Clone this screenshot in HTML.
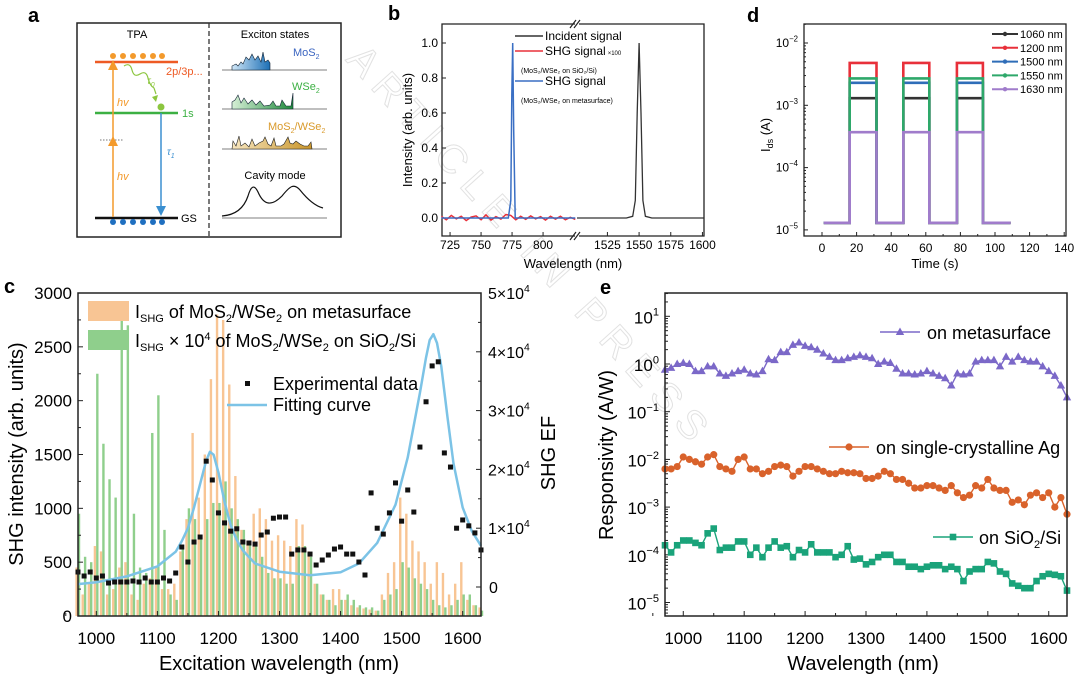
<!DOCTYPE html>
<html><head><meta charset="utf-8"><style>
body{margin:0;background:#fff}
svg{display:block;font-family:"Liberation Sans",Arial,sans-serif}
</style></head><body>
<svg id="fig" width="1080" height="679" viewBox="0 0 1080 679" xmlns="http://www.w3.org/2000/svg">
<defs>
<linearGradient id="gBlue" x1="0" x2="1" y1="0" y2="0"><stop offset="0" stop-color="#cfe6f7"/><stop offset="1" stop-color="#1c6fb5"/></linearGradient>
<linearGradient id="gGreen" x1="0" x2="1" y1="0" y2="0"><stop offset="0" stop-color="#d6efd6"/><stop offset="1" stop-color="#1f8a3c"/></linearGradient>
<linearGradient id="gGold" x1="0" x2="1" y1="0" y2="0"><stop offset="0" stop-color="#f7e6bf"/><stop offset="1" stop-color="#c9952a"/></linearGradient>
</defs>
<text x="345" y="60" transform="rotate(48 345 60)" font-size="40" fill="none" stroke="#e2e2e2" stroke-width="1" letter-spacing="10">ARTICLE IN PRESS</text>

<!-- Panel a -->
<g>
<text x="28" y="22" font-size="20" font-weight="bold">a</text>
<rect x="77" y="23" width="264" height="214" fill="none" stroke="#222" stroke-width="1.5"/>
<line x1="209" y1="23" x2="209" y2="237" stroke="#333" stroke-width="1.3" stroke-dasharray="5,3"/>
<text x="137" y="38" font-size="11" text-anchor="middle">TPA</text>
<line x1="95" y1="62" x2="178" y2="62" stroke="#ee5a24" stroke-width="2.5"/>
<g fill="#f39a2c"><circle cx="113" cy="56" r="3"/><circle cx="123" cy="56" r="3"/><circle cx="133" cy="56" r="3"/><circle cx="143" cy="56" r="3"/><circle cx="153" cy="56" r="3"/><circle cx="162" cy="56" r="3"/></g>
<text x="166" y="75" font-size="11" fill="#ee5a24">2p/3p...</text>
<line x1="95" y1="113" x2="178" y2="113" stroke="#3cb043" stroke-width="2.5"/>
<text x="182" y="117" font-size="11" fill="#3cb043">1s</text>
<line x1="95" y1="218" x2="178" y2="218" stroke="#111" stroke-width="2.5"/>
<text x="181" y="222" font-size="11">GS</text>
<g fill="#1f6fc0"><circle cx="113" cy="222" r="3"/><circle cx="123" cy="222" r="3"/><circle cx="133" cy="222" r="3"/><circle cx="143" cy="222" r="3"/><circle cx="153" cy="222" r="3"/><circle cx="162" cy="222" r="3"/></g>
<line x1="100" y1="140" x2="124" y2="140" stroke="#777" stroke-width="1" stroke-dasharray="1.5,1.5"/>
<line x1="113" y1="217" x2="113" y2="64" stroke="#f39a2c" stroke-width="1.5"/>
<path d="M108 146 L113 136 L118 146 Z M108 70 L113 60 L118 70 Z" fill="#f39a2c"/>
<text x="117" y="106" font-size="11" font-style="italic" fill="#f39a2c">hv</text>
<text x="117" y="180" font-size="11" font-style="italic" fill="#f39a2c">hv</text>
<line x1="161" y1="113" x2="161" y2="210" stroke="#3a8fd0" stroke-width="1.5"/>
<path d="M156 206 L161 216 L166 206 Z" fill="#3a8fd0"/>
<text x="167" y="155" font-size="10" font-style="italic" fill="#3a8fd0">τ<tspan font-size="7" dy="3">1</tspan></text>
<path d="M124 66 q6 -4 8 4 q2 8 8 4 q6 -4 8 4 q2 8 6 10 l2 6" fill="none" stroke="#8cc63f" stroke-width="1.2"/>
<path d="M152 97 L156 102 L158 95 Z" fill="#8cc63f"/>
<text x="147" y="84" font-size="10" font-style="italic" fill="#8cc63f">τ<tspan font-size="7" dy="3">0</tspan></text>
<circle cx="161" cy="107" r="3.5" fill="#8cc63f"/>
<text x="275" y="38" font-size="11" text-anchor="middle">Exciton states</text>
<line x1="222" y1="70" x2="327" y2="70" stroke="#555" stroke-width="0.8"/>
<path d="M232 70 L232 66 L236 64 L238 66 L241 62 L243 64 L246 57 L249 60 L252 54 L255 60 L258 56 L261 62 L263 52 L265 62 L268 60 L270 63 L270 70 Z" fill="url(#gBlue)" stroke="#123" stroke-width="0.6"/>
<text x="293" y="56" font-size="11" fill="#3a64c0">MoS<tspan font-size="7" dy="3">2</tspan></text>
<line x1="222" y1="109" x2="327" y2="109" stroke="#555" stroke-width="0.8"/>
<path d="M232 109 L232 102 L235 100 L238 95 L241 103 L244 98 L248 104 L252 100 L256 105 L260 101 L264 106 L270 105 L273 101 L276 106 L280 106 L282 100 L286 106 L291 106 L293 93 L293 109 Z" fill="url(#gGreen)" stroke="#123" stroke-width="0.6"/>
<text x="292" y="90" font-size="11" fill="#3cb043">WSe<tspan font-size="7" dy="3">2</tspan></text>
<line x1="222" y1="149" x2="327" y2="149" stroke="#555" stroke-width="0.8"/>
<path d="M232 149 L233 141 L236 146 L239 136 L241 146 L245 143 L249 147 L252 139 L255 146 L259 143 L263 141 L265 137 L268 144 L271 146 L274 138 L276 146 L281 146 L284 144 L288 137 L290 143 L293 144 L296 141 L300 144 L304 146 L308 146 L311 142 L312 149 Z" fill="url(#gGold)" stroke="#222" stroke-width="0.6"/>
<text x="268" y="130" font-size="11" fill="#d99a2b">MoS<tspan font-size="7" dy="3">2</tspan><tspan dy="-3">/WSe</tspan><tspan font-size="7" dy="3">2</tspan></text>
<text x="275" y="179" font-size="11" text-anchor="middle">Cavity mode</text>
<line x1="222" y1="218" x2="327" y2="218" stroke="#555" stroke-width="0.8"/>
<path d="M222 216 C236 215 244 208 248 196 C251 186 254 184 258 192 C264 206 272 206 282 196 C290 186 294 183 300 190 C308 200 315 206 323 208" fill="none" stroke="#111" stroke-width="1.2"/>
</g>

<text x="388" y="20" font-size="20" font-weight="bold">b</text>
<text x="747" y="22" font-size="20" font-weight="bold">d</text>
<text x="4" y="293" font-size="20" font-weight="bold">c</text>
<text x="600" y="294" font-size="20" font-weight="bold">e</text>

<g id="pb"></g>
<g id="pd"></g>
<g id="pc"></g>
<g id="pe"></g>
</svg>
<script>
// ---------- DATA ----------
// panel b
const bBlueW = [718,760,772,774,774.8,775.5,776.3,777.5,790,826];
const bBlueI = [0,0,0,0.1,0.7,1.0,0.5,0,0,0];
const bRedW = [718,722,726,730,734,738,742,746,750,754,758,762,766,770,774,778,782,786,790,794,798,802,806,810,814,818,822,826];
const bRedI = [0.01,-0.01,0.015,-0.005,0.01,-0.015,0.005,0.012,-0.01,0.018,-0.012,0.008,-0.006,0.02,0.015,-0.01,0.01,-0.008,0.012,-0.005,0.008,-0.012,0.01,-0.006,0.01,-0.01,0.004,-0.008];
const bBlackW = [1501,1540,1545,1547,1548.5,1550,1551.5,1553,1555,1560,1601];
const bBlackI = [0,0,0.01,0.1,0.6,1.0,0.6,0.1,0.01,0,0];
const bYTicks = [0,0.2,0.4,0.6,0.8,1.0];
const bXTicksL = [725,750,775,800];
const bXTicksR = [1525,1550,1575,1600];
// panel d
const dSeriesNames = ['1060 nm','1200 nm','1500 nm','1550 nm','1630 nm'];
const dLevels = [1.3e-3,4.8e-3,2.3e-3,2.7e-3,3.7e-4];
const dBase = 1.3e-5;
const dOn = [16,47,78];
const dOff = [31.5,62,93];
const dEnd = 109;
const dXTicks = [0,20,40,60,80,100,120,140];
const dYTicks = [-5,-4,-3,-2];
// panel c
const cWl = [970,980,990,1000,1010,1020,1030,1040,1050,1060,1070,1080,1090,1100,1110,1120,1130,1140,1150,1160,1170,1180,1190,1200,1210,1220,1230,1240,1250,1260,1270,1280,1290,1300,1310,1320,1330,1340,1350,1360,1370,1380,1390,1400,1410,1420,1430,1440,1450,1460,1470,1480,1490,1500,1510,1520,1530,1540,1550,1560,1570,1580,1590,1600,1610,1620,1630];
const cMeta = [450,200,300,650,600,200,250,450,500,200,150,300,350,450,250,250,300,600,900,1700,1100,1500,2200,2800,2750,2150,1300,800,700,950,1000,900,700,750,700,650,900,850,600,300,200,150,250,250,150,100,80,70,60,50,200,400,500,1100,950,700,600,500,300,500,400,200,300,500,150,100,80];
const cSio2 = [950,550,500,2250,1600,1270,1100,2800,2700,950,450,400,1700,2050,800,200,150,650,1000,900,750,900,1050,1050,1250,1000,900,800,700,650,550,400,350,350,300,300,650,650,550,300,200,150,100,150,200,150,100,80,80,50,150,200,250,500,450,350,300,250,150,100,80,100,150,200,200,100,50];
const cEF = [2550,1870,2550,1530,1870,680,850,850,850,1020,850,1530,850,850,1530,1020,2380,6800,4250,7650,8500,21400,18200,12600,10900,9500,9900,7650,7480,7300,8840,9350,11700,11900,11900,5600,6300,6300,5600,3740,4590,5440,6460,6800,5600,5600,4250,2040,16000,10000,9000,12600,17700,11200,16500,12750,23800,31500,37600,38300,22800,20400,10000,11400,10400,9200,6300];
const cFitW = [970,1000,1050,1100,1130,1140,1150,1160,1170,1180,1186,1192,1200,1210,1220,1230,1240,1260,1300,1350,1400,1430,1460,1490,1510,1530,1540,1546,1552,1558,1565,1575,1585,1600,1615,1630];
const cFitEF = [500,800,1800,3500,6000,7800,10000,13500,17500,21500,23000,22500,19500,14500,10500,8000,6200,4000,2600,2000,2500,4000,7500,14000,22000,33000,39000,42000,43000,41500,37500,29000,21000,13500,9500,7000];
const cXTicks = [1000,1100,1200,1300,1400,1500,1600];
const cYTicks = [0,500,1000,1500,2000,2500,3000];
const cRTicks = [0,1,2,3,4,5];
// panel e (values as log10 of responsivity, A/W)
const eMetaExp = [-0.12,-0.08,0,0.02,0,-0.15,-0.15,-0.05,-0.05,-0.2,-0.25,-0.2,-0.15,-0.12,-0.2,-0.22,-0.15,0.1,0.08,0.25,0.25,0.4,0.45,0.38,0.35,0.3,0.22,0.15,0.08,0.08,0.12,0.15,0.18,0.15,0.12,0,0.05,0.02,-0.1,-0.2,-0.2,-0.22,-0.2,-0.15,-0.2,-0.25,-0.3,-0.45,-0.2,-0.22,-0.2,0.05,0.08,0.08,0.08,-0.05,0.15,0.05,0.15,0.08,0.05,0.05,-0.05,-0.15,-0.25,-0.45,-0.7];
const eAgExp = [-2.2,-2.2,-2.15,-1.95,-2.0,-2.05,-2.1,-1.95,-1.9,-2.15,-2.2,-2.25,-2.0,-1.95,-2.2,-2.2,-2.3,-2.25,-2.15,-2.12,-2.15,-2.35,-2.25,-2.15,-2.15,-2.2,-2.25,-2.3,-2.3,-2.25,-2.28,-2.28,-2.3,-2.4,-2.4,-2.35,-2.25,-2.3,-2.42,-2.42,-2.5,-2.6,-2.6,-2.55,-2.55,-2.6,-2.65,-2.55,-2.7,-2.8,-2.75,-2.55,-2.6,-2.42,-2.6,-2.65,-2.65,-2.9,-2.85,-2.95,-2.75,-2.7,-2.8,-2.7,-3.0,-2.8,-3.15];
const eSiExp = [-3.8,-3.95,-3.8,-3.7,-3.7,-3.75,-3.8,-3.55,-3.45,-3.9,-3.85,-3.85,-3.72,-3.72,-4.0,-3.85,-4.05,-3.85,-3.72,-3.85,-3.82,-4.05,-3.9,-3.95,-3.78,-3.95,-3.95,-3.95,-4.05,-4.0,-3.82,-4.1,-4.08,-4.2,-4.15,-4.05,-4.0,-4.0,-4.15,-4.15,-4.25,-4.25,-4.3,-4.25,-4.22,-4.22,-4.3,-4.25,-4.3,-4.55,-4.35,-4.3,-4.3,-4.15,-4.18,-4.35,-4.4,-4.6,-4.65,-4.7,-4.7,-4.55,-4.45,-4.4,-4.42,-4.45,-4.75];
const eXTicks = [1000,1100,1200,1300,1400,1500,1600];
const eYTicks = [-5,-4,-3,-2,-1,0,1];

// ---------- HELPERS ----------
const NS='http://www.w3.org/2000/svg';
function mk(tag, attrs, parent){const e=document.createElementNS(NS,tag);for(const k in attrs)e.setAttribute(k,attrs[k]);parent.appendChild(e);return e;}
function txt(parent,x,y,s,size,anchor,extra){const t=mk('text',Object.assign({x:x,y:y,'font-size':size,'text-anchor':anchor||'middle'},extra||{}),parent);t.textContent=s;return t;}
function pow10(parent,x,y,base,exp,size,anchor){const t=mk('text',{x:x,y:y,'font-size':size,'text-anchor':anchor||'end'},parent);t.appendChild(document.createTextNode(base));const s=mk('tspan',{dy:-size*0.45,'font-size':size*0.65},t);s.textContent=exp;return t;}
function pathD(xs,ys){return xs.map((x,i)=>(i?'L':'M')+x.toFixed(1)+' '+ys[i].toFixed(1)).join(' ');}

// ---------- PANEL B ----------
(function(){
const g=document.getElementById('pb');
const L=442,R=704,T=24,B=236;
const bxL=w=>442+(w-718.5)*1.24, bxR=w=>577+(w-1501)*1.267, by=v=>218-v*175;
let f=mk('path',{d:`M575 ${T} L${L} ${T} L${L} ${B} L575 ${B} M579 ${B} L${R} ${B} L${R} ${T} L579 ${T}`,fill:'none',stroke:'#222','stroke-width':1.3},g);


let br=mk('path',{d:`M570 ${T+4} L576 ${T-4} M574 ${T+4} L580 ${T-4} M570 ${B+4} L576 ${B-4} M574 ${B+4} L580 ${B-4}`,stroke:'#222','stroke-width':1.2},g);


bYTicks.forEach(v=>{mk('line',{x1:L,x2:L+4,y1:by(v),y2:by(v),stroke:'#222'},g);const t=txt(g,L-4,by(v)+4,v.toFixed(1),12,'end');

});
bXTicksL.forEach(v=>{mk('line',{x1:bxL(v),x2:bxL(v),y1:B,y2:B-4,stroke:'#222'},g);const t=txt(g,bxL(v),B+13,String(v),12);

});
bXTicksR.forEach(v=>{mk('line',{x1:bxR(v),x2:bxR(v),y1:B,y2:B-4,stroke:'#222'},g);const t=txt(g,bxR(v),B+13,String(v),12);

});
let yt=txt(g,0,0,'Intensity (arb. units)',13,'middle',{transform:'translate(412 130) rotate(-90)'});


let xt=txt(g,573,268,'Wavelength (nm)',13);


let red=mk('path',{d:pathD(bRedW.map(bxL),bRedI.map(by)),fill:'none',stroke:'#e8303a','stroke-width':1.5},g);


let blue=mk('path',{d:pathD(bBlueW.map(bxL),bBlueI.map(by)),fill:'none',stroke:'#3a6fc4','stroke-width':1.5},g);


let blk=mk('path',{d:pathD(bBlackW.map(bxR),bBlackI.map(by)),fill:'none',stroke:'#333','stroke-width':1.3},g);


const leg=[['#333','Incident signal',40],['#e8303a','SHG signal',55],['#3a6fc4','SHG signal',85]];
leg.forEach((l,i)=>{mk('line',{x1:515,x2:543,y1:l[2]-4,y2:l[2]-4,stroke:l[0],'stroke-width':1.5},g);const t=txt(g,545,l[2],l[1],12,'start');


if(i==1){const s=mk('tspan',{'font-size':6,dx:2},t);s.textContent='×100';}});
let s1=txt(g,521,73,'(MoS₂/WSe₂ on SiO₂/Si)',7,'start');


let s2=txt(g,521,103,'(MoS₂/WSe₂ on metasurface)',7,'start');


})();

// ---------- PANEL D ----------
(function(){
const g=document.getElementById('pd');
const L=804,R=1066,T=24,B=236;
const dx=t=>822+t*1.73, dy=v=>43-(Math.log10(v)+2)*62.3;
let f=mk('rect',{x:L,y:T,width:R-L,height:B-T,fill:'none',stroke:'#222','stroke-width':1.3},g);


dXTicks.forEach(v=>{mk('line',{x1:dx(v),x2:dx(v),y1:B,y2:B-4,stroke:'#222'},g);if(dx(v+10)<R)mk('line',{x1:dx(v+10),x2:dx(v+10),y1:B,y2:B-2,stroke:'#222'},g);const t=txt(g,dx(v),B+16,String(v),12);

});
dYTicks.forEach(e=>{const y=dy(Math.pow(10,e));mk('line',{x1:L,x2:L+4,y1:y,y2:y,stroke:'#222'},g);
for(let k=2;k<10;k++){const yy=dy(k*Math.pow(10,e));if(yy>T)mk('line',{x1:L,x2:L+2,y1:yy,y2:yy,stroke:'#222'},g);}
const t=pow10(g,L-6,y+4,'10',String(e).replace('-','−'),12);

});
const yt=mk('text',{'font-size':13,'text-anchor':'middle',transform:'translate(770 135) rotate(-90)'},g);
yt.appendChild(document.createTextNode('I'));const sb=mk('tspan',{'font-size':9,dy:3},yt);sb.textContent='ds';const rest=mk('tspan',{dy:-3},yt);rest.textContent=' (A)';


let xt=txt(g,935,268,'Time (s)',13);


const cols=['#333','#e8303a','#2f6db8','#2ea86a','#a07ccb'];
dLevels.forEach((lv,i)=>{
 const xs=[1],ys=[dBase];
 dOn.forEach((on,k)=>{xs.push(on,on,dOff[k],dOff[k]);ys.push(dBase,lv,lv,dBase);});
 xs.push(dEnd);ys.push(dBase);
 const p=mk('path',{d:pathD(xs.map(dx),ys.map(dy)),fill:'none',stroke:cols[i],'stroke-width':2.6},g);
 
 
 const ly=34+i*13.8;
 mk('line',{x1:992,x2:1018,y1:ly,y2:ly,stroke:cols[i],'stroke-width':2},g);
 mk('circle',{cx:1005,cy:ly,r:2.2,fill:cols[i]},g);
 const t=txt(g,1020,ly+4,dSeriesNames[i],11,'start');
 
 
});
})();

// ---------- PANEL C ----------
(function(){
const g=document.getElementById('pc');
const L=78,R=481,T=293,B=616;
const cx=w=>L+(w-970)/660*(R-L), cyL=v=>B-v/3000*(B-T), cyR=v=>587-v/50000*294;
cWl.forEach((w,i)=>{
 const o=mk('rect',{x:cx(w)-2.6,y:cyL(cMeta[i]),width:2.4,height:B-cyL(cMeta[i]),fill:'#f8c594'},g);
 
 
 const gr=mk('rect',{x:cx(w)-0.2,y:cyL(cSio2[i]),width:2.4,height:B-cyL(cSio2[i]),fill:'#8fcf8c'},g);
 
 
});
let fit=mk('path',{d:pathD(cFitW.map(cx),cFitEF.map(cyR)),fill:'none',stroke:'#7cc3e6','stroke-width':2.5,'stroke-linejoin':'round'},g);


cWl.forEach((w,i)=>{const r=mk('rect',{x:cx(w)-2.5,y:cyR(cEF[i])-2.5,width:5,height:5,fill:'#111'},g);

});
let f=mk('rect',{x:L,y:T,width:R-L,height:B-T,fill:'none',stroke:'#222','stroke-width':1.5},g);


cXTicks.forEach(v=>{mk('line',{x1:cx(v),x2:cx(v),y1:B,y2:B-5,stroke:'#222'},g);mk('line',{x1:cx(v-50),x2:cx(v-50),y1:B,y2:B-3,stroke:'#222'},g);const t=txt(g,cx(v),B+28,String(v),17);

});
cYTicks.forEach(v=>{mk('line',{x1:L,x2:L+5,y1:cyL(v),y2:cyL(v),stroke:'#222'},g);if(v<3000)mk('line',{x1:L,x2:L+3,y1:cyL(v+250),y2:cyL(v+250),stroke:'#222'},g);const t=txt(g,L-6,cyL(v)+6,String(v),17,'end');

});
cRTicks.forEach(v=>{const y=cyR(v*1e4);mk('line',{x1:R,x2:R-5,y1:y,y2:y,stroke:'#222'},g);if(v<5)mk('line',{x1:R,x2:R-3,y1:cyR(v*1e4+5000),y2:cyR(v*1e4+5000),stroke:'#222'},g);
const t=v===0?txt(g,R+8,y+6,'0',16,'start'):pow10(g,R+7,y+6,v+'×10','4',16,'start');

});
let yt=txt(g,0,0,'SHG intensity (arb. units)',20,'middle',{transform:'translate(23 454) rotate(-90)'});


let yr=txt(g,0,0,'SHG EF',20,'middle',{transform:'translate(555 453) rotate(-90)'});


let xt=txt(g,279,670,'Excitation wavelength (nm)',20);


mk('rect',{x:88,y:301,width:41,height:20,fill:'#f8c594'},g);
mk('rect',{x:88,y:330,width:41,height:20,fill:'#8fcf8c'},g);
const l1=mk('text',{x:135,y:318,'font-size':18},g);
l1.innerHTML='I<tspan font-size="11" dy="4">SHG</tspan><tspan dy="-4"> of MoS</tspan><tspan font-size="11" dy="4">2</tspan><tspan dy="-4">/WSe</tspan><tspan font-size="11" dy="4">2</tspan><tspan dy="-4"> on metasurface</tspan>';


const l2=mk('text',{x:135,y:347,'font-size':18},g);
l2.innerHTML='I<tspan font-size="11" dy="4">SHG</tspan><tspan dy="-4"> × 10</tspan><tspan font-size="11" dy="-7">4</tspan><tspan dy="7"> of MoS</tspan><tspan font-size="11" dy="4">2</tspan><tspan dy="-4">/WSe</tspan><tspan font-size="11" dy="4">2</tspan><tspan dy="-4"> on SiO</tspan><tspan font-size="11" dy="4">2</tspan><tspan dy="-4">/Si</tspan>';


mk('rect',{x:245,y:381,width:5,height:5,fill:'#111'},g);
let l3=txt(g,273,390,'Experimental data',18,'start');


mk('line',{x1:227,x2:267,y1:405,y2:405,stroke:'#7cc3e6','stroke-width':2.5},g);
let l4=txt(g,273,411,'Fitting curve',18,'start');


})();

// ---------- PANEL E ----------
(function(){
const g=document.getElementById('pe');
const L=665,R=1067,T=293,B=616;
const ex=w=>L+(w-970)/660*(R-L), ey=e=>364-e*47.7;
eYTicks.forEach(e=>{const y=ey(e);mk('line',{x1:L,x2:L+5,y1:y,y2:y,stroke:'#222'},g);
for(let k=2;k<10;k++){const yy=ey(e+Math.log10(k));if(yy>T&&yy<B)mk('line',{x1:L,x2:L+3,y1:yy,y2:yy,stroke:'#222'},g);}
for(let k=2;k<10;k++){const yy=ey(e-1+Math.log10(k));if(e===-5&&yy<B)mk('line',{x1:L,x2:L+3,y1:yy,y2:yy,stroke:'#222'},g);}
const t=pow10(g,L-6,y+7,'10',String(e).replace('-','−'),17);

});
eXTicks.forEach(v=>{mk('line',{x1:ex(v),x2:ex(v),y1:B,y2:B-5,stroke:'#222'},g);mk('line',{x1:ex(v-50),x2:ex(v-50),y1:B,y2:B-3,stroke:'#222'},g);const t=txt(g,ex(v),B+28,String(v),17);

});
const series=[[eSiExp,'#1aa37a','square','series-sio2'],[eAgExp,'#d9622b','circle','series-ag'],[eMetaExp,'#7b68c8','triangle','series-metasurface']];
series.forEach(s=>{
 const arr=s[0];
 const p=mk('path',{d:pathD(cWl.map(ex),arr.map(ey)),fill:'none',stroke:s[1],'stroke-width':1.4},g);
 
 
 arr.forEach((v,i)=>{const x=ex(cWl[i]),y=ey(v);let m;
  if(s[2]==='square')m=mk('rect',{x:x-3.3,y:y-3.3,width:6.6,height:6.6,fill:s[1]},g);
  else if(s[2]==='circle')m=mk('circle',{cx:x,cy:y,r:3.6,fill:s[1]},g);
  else m=mk('path',{d:`M${x} ${y-4.5} L${x+4.2} ${y+3} L${x-4.2} ${y+3} Z`,fill:s[1]},g);
  
  });
});
let f=mk('rect',{x:L,y:T,width:R-L,height:B-T,fill:'none',stroke:'#222','stroke-width':1.5},g);


let yt=txt(g,0,0,'Responsivity (A/W)',20,'middle',{transform:'translate(613 455) rotate(-90)'});


let xt=txt(g,863,670,'Wavelength (nm)',20);


mk('line',{x1:880,x2:920,y1:332,y2:332,stroke:'#7b68c8','stroke-width':1.4},g);
mk('path',{d:'M900 327.5 L904.2 335 L895.8 335 Z',fill:'#7b68c8'},g);
let a=txt(g,927,339,'on metasurface',18,'start');


mk('line',{x1:829,x2:869,y1:447,y2:447,stroke:'#d9622b','stroke-width':1.4},g);
mk('circle',{cx:849,cy:447,r:3.6,fill:'#d9622b'},g);
let b=txt(g,876,454,'on single-crystalline Ag',18,'start');


mk('line',{x1:933,x2:973,y1:537,y2:537,stroke:'#1aa37a','stroke-width':1.4},g);
mk('rect',{x:949.7,y:533.7,width:6.6,height:6.6,fill:'#1aa37a'},g);
const c=mk('text',{x:979,y:544,'font-size':18},g);
c.innerHTML='on SiO<tspan font-size="11" dy="4">2</tspan><tspan dy="-4">/Si</tspan>';


})();
</script>
</body></html>
